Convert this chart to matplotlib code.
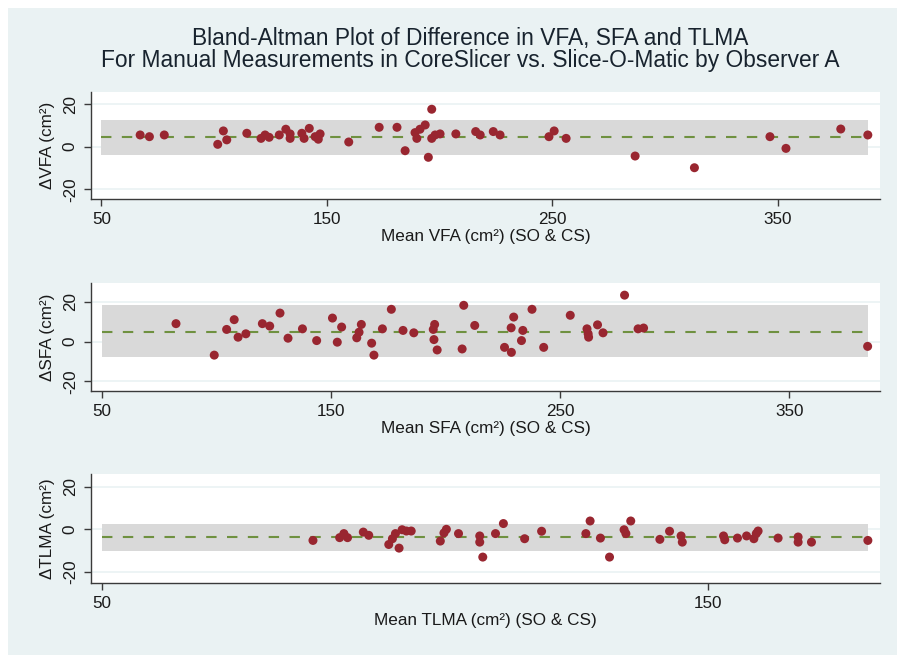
import numpy as np
import matplotlib
matplotlib.use("Agg")
import matplotlib.pyplot as plt
from matplotlib.patches import Rectangle

plt.rcParams['font.family'] = ['Liberation Sans', 'DejaVu Sans']

# VFA
vfa_x = [67.2, 71.3, 77.9, 101.6, 104.1, 105.6, 114.5, 120.8, 122.6, 124.4, 128.9, 131.8,
         133.7, 133.7, 138.9, 139.9, 142.2, 144.8, 146.2, 147.0, 159.7, 173.2, 181.1, 184.7,
         189.1, 189.9, 191.3, 193.6, 195.0, 196.5, 196.5, 198.0, 200.2, 207.2, 216.0, 218.0,
         223.8, 226.8, 248.5, 250.8, 256.1, 286.7, 313.0, 346.5, 353.6, 377.9, 389.9]
vfa_d = [5.5, 4.7, 5.5, 1.1, 7.4, 3.2, 6.3, 3.9, 5.5, 4.4, 5.5, 8.2,
         3.9, 6.0, 6.3, 3.9, 8.6, 4.7, 3.5, 6.0, 2.2, 9.1, 9.1, -1.9,
         6.6, 3.9, 8.2, 10.2, -5.0, 17.6, 3.9, 5.5, 6.0, 6.0, 7.1, 5.5,
         7.1, 5.5, 4.7, 7.4, 3.9, -4.4, -9.9, 4.7, -0.8, 8.3, 5.5]
vfa_loa = [-3.9, 4.5, 12.6]   # lower, mean, upper

# SFA
sfa_x = [82.3, 99.0, 104.4, 107.7, 109.4, 112.8, 120.0, 123.2, 127.7, 131.2, 137.5, 143.7,
         150.6, 152.7, 154.6, 161.2, 162.2, 163.2, 167.7, 168.7, 172.4, 176.3, 181.4, 186.1,
         194.6, 195.2, 194.9, 196.3, 207.2, 207.9, 212.7, 225.7, 228.7, 228.6, 229.7, 233.7,
         233.1, 237.7, 242.8, 254.4, 261.7, 262.2, 262.4, 266.3, 268.7, 278.1, 284.0, 286.4, 384.2]
sfa_d = [9.0, -6.8, 6.1, 11.0, 2.2, 3.9, 9.0, 7.8, 14.3, 1.7, 6.4, 0.5,
         11.8, -0.3, 7.3, 1.9, 4.7, 8.6, -0.8, -6.8, 6.4, 16.2, 5.6, 4.4,
         6.1, 8.6, 1.0, -4.2, -3.7, 18.2, 8.1, -2.9, -5.4, 6.9, 12.3, 5.6,
         0.5, 16.2, -2.9, 13.2, 6.4, 3.9, 2.2, 8.4, 4.4, 23.3, 6.4, 6.8, -2.4]
sfa_loa = [-7.9, 5.0, 18.2]

# TLMA
tlma_x = [84.8, 89.2, 89.9, 90.5, 93.1, 94.0, 97.3, 97.9, 98.4, 99.0, 99.5, 100.2,
          101.0, 105.8, 106.4, 106.8, 108.8, 112.3, 112.3, 112.8, 114.9, 116.2, 119.7, 122.5,
          129.8, 130.5, 132.2, 133.7, 136.1, 136.4, 137.2, 142.0, 143.6, 145.5, 145.7, 152.5,
          152.7, 154.8, 156.3, 157.5, 157.9, 158.2, 161.5, 164.8, 164.8, 167.0, 176.3]
tlma_d = [-5.2, -3.9, -2.0, -3.9, -1.3, -2.8, -7.1, -4.4, -2.0, -8.8, -0.2, -0.8,
          -0.8, -5.5, -1.7, 0.0, -2.0, -3.1, -6.0, -13.0, -2.0, 2.7, -4.4, -0.9,
          -2.0, 3.9, -4.1, -13.0, -0.2, -2.0, 3.9, -4.7, -0.9, -3.1, -6.0, -3.1,
          -4.9, -4.1, -3.1, -4.4, -2.0, -0.8, -4.1, -3.6, -6.0, -6.0, -5.2]
tlma_loa = [-10.2, -3.7, 2.7]

y_ticks = [-20, 0, 20]
y_ticklabels = ["-20", "0", "20"]
x_ticks_big = [50, 150, 250, 350]
x_ticks_tlma = [50, 150]

title_lines = ["Bland-Altman Plot of Difference in VFA, SFA and TLMA",
               "For Manual Measurements in CoreSlicer vs. Slice-O-Matic by Observer A"]

panels = [
    (vfa_x, vfa_d, vfa_loa, "ΔVFA (cm²)", "Mean VFA (cm²) (SO & CS)", x_ticks_big, (45.4, 395.3), (-24.6, 25.7)),
    (sfa_x, sfa_d, sfa_loa, "ΔSFA (cm²)", "Mean SFA (cm²) (SO & CS)", x_ticks_big, (45.2, 389.6), (-24.8, 29.4)),
    (tlma_x, tlma_d, tlma_loa, "ΔTLMA (cm²)", "Mean TLMA (cm²) (SO & CS)", x_ticks_tlma, (48.2, 178.3), (-24.9, 25.9)),
]

W, H = 897, 655
bg = '#eaf2f3'
fig = plt.figure(figsize=(W / 100, H / 100), dpi=100, facecolor=bg)
# thin white strips on the left and top edges
fig.patches.append(Rectangle((0, 0), 8 / W, 1, transform=fig.transFigure,
                             facecolor='white', edgecolor='none', zorder=-10))
fig.patches.append(Rectangle((0, 1 - 8 / H), 1, 8 / H, transform=fig.transFigure,
                             facecolor='white', edgecolor='none', zorder=-10))

for yy, line in zip([38, 60], title_lines):
    fig.text(470 / W, 1 - yy / H, line, ha='center', va='center', fontsize=16.4,
             color='#18232e')

# pixel boxes (top, bottom) of each plot region
boxes = [(92, 199), (283, 391), (474, 582.5)]
left, right = 91, 880
fs = 12.3

for (x, d, loa, ylab, xlab, xt, xl, yl), (top, bot) in zip(panels, boxes):
    ax = fig.add_axes([left / W, 1 - bot / H, (right - left) / W, (bot - top) / H])
    ax.set_facecolor('white')
    ax.set_xlim(*xl)
    ax.set_ylim(*yl)

    for t in y_ticks:
        ax.axhline(t, color=bg, lw=1.2, zorder=0)

    x0, x1 = 50, max(x)
    ax.fill_between([x0, x1], loa[0], loa[2], color='#d9d9d9', lw=0, zorder=1)
    ax.plot([x0, x1], [loa[1], loa[1]], color='#6f9140', lw=1.5,
            dashes=(5, 5), zorder=2)
    ax.scatter(x, d, s=42, color='#992630', edgecolors='none', zorder=3)

    for s in ['top', 'right']:
        ax.spines[s].set_visible(False)
    for s in ['left', 'bottom']:
        ax.spines[s].set_color('#3a3a3a')
        ax.spines[s].set_linewidth(1.0)

    ax.set_xticks(xt)
    ax.set_yticks(y_ticks)
    ax.set_yticklabels(y_ticklabels, rotation=90, va='center')
    ax.tick_params(axis='both', length=5, width=1, color='#3a3a3a',
                   labelsize=fs, labelcolor='#1a1a1a', pad=4.5)

    ax.set_xlabel(xlab, fontsize=fs, color='#1a1a1a')
    ax.xaxis.set_label_coords(0.5, -37.5 / (bot - top))
    ax.xaxis.label.set_va('center')
    ax.set_ylabel(ylab, fontsize=fs, color='#1a1a1a')
    ax.yaxis.set_label_coords(-44 / (right - left), 0.5)
    ax.yaxis.label.set_va('center')

plt.savefig("out.png", dpi=100, facecolor=fig.get_facecolor())
